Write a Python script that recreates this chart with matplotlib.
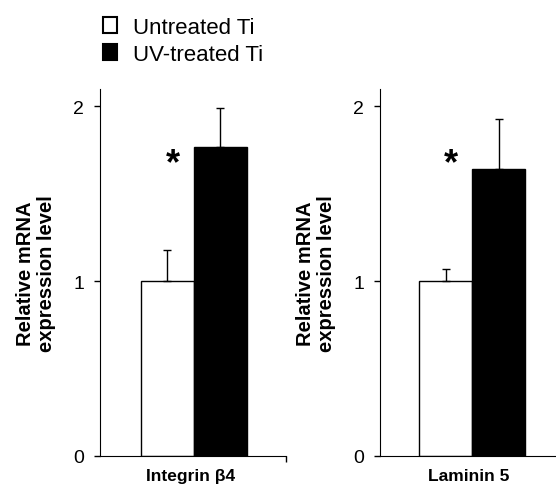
import matplotlib.pyplot as plt
from matplotlib.patches import Patch

plt.rcParams['font.family'] = ['Liberation Sans', 'DejaVu Sans']

genes = ['Integrin β4', 'Laminin 5']
groups = ['Untreated Ti', 'UV-treated Ti']
untreated = [1.00, 1.00]
untreated_err = [0.18, 0.07]
uv = [1.77, 1.64]
uv_err = [0.22, 0.29]
star_y = [1.67, 1.67]

fig = plt.figure(figsize=(5.56, 4.89), dpi=100)
boxes = [[100/556, 32/489, 186/556, 367/489],
         [380/556, 32/489, 186/556, 367/489]]
xlims = [(-0.53, 0.52), (-0.52, 0.53)]
w = 0.3

for i, gene in enumerate(genes):
    ax = fig.add_axes(boxes[i])
    ax.bar(-w/2, untreated[i], w, color='white', edgecolor='black', lw=1)
    ax.bar(w/2, uv[i], w, color='black', edgecolor='black', lw=1)
    ax.errorbar([-w/2, w/2], [untreated[i], uv[i]],
                yerr=[[0, 0], [untreated_err[i], uv_err[i]]],
                fmt='none', ecolor='black', elinewidth=1, capsize=3, capthick=1)
    ax.text(-0.12, star_y[i], '*', fontsize=26, fontweight='bold', ha='center', va='center')
    ax.set_xlim(*xlims[i])
    ax.set_ylim(0, 2.1)
    ax.set_yticks([0, 1, 2])
    ax.tick_params(axis='y', labelsize=14, length=4.5, width=1, direction='out', pad=7)
    # boundary tick at the right end of the category axis, label at the centre
    ax.set_xticks([xlims[i][1]])
    ax.set_xticklabels([])
    ax.tick_params(axis='x', which='major', length=4.5, width=1, direction='out')
    ax.set_xticks([-0.02], minor=True)
    ax.set_xticklabels([gene], minor=True, fontsize=12.5, fontweight='bold')
    ax.tick_params(axis='x', which='minor', length=0, pad=9)
    ax.spines['top'].set_visible(False)
    ax.spines['right'].set_visible(False)
    ax.set_ylabel('Relative mRNA\nexpression level', fontsize=14.5, fontweight='bold',
                  labelpad=12, linespacing=1.15)

handles = [Patch(facecolor='white', edgecolor='black', lw=1.5),
           Patch(facecolor='black', edgecolor='black', lw=1.5)]
fig.legend(handles, groups, loc='upper left', bbox_to_anchor=(0.158, 0.995),
           frameon=False, fontsize=16, handlelength=0.6, handleheight=0.7,
           handletextpad=0.75, labelspacing=0.25, borderaxespad=0.3)

fig.savefig('out.png', dpi=100)
